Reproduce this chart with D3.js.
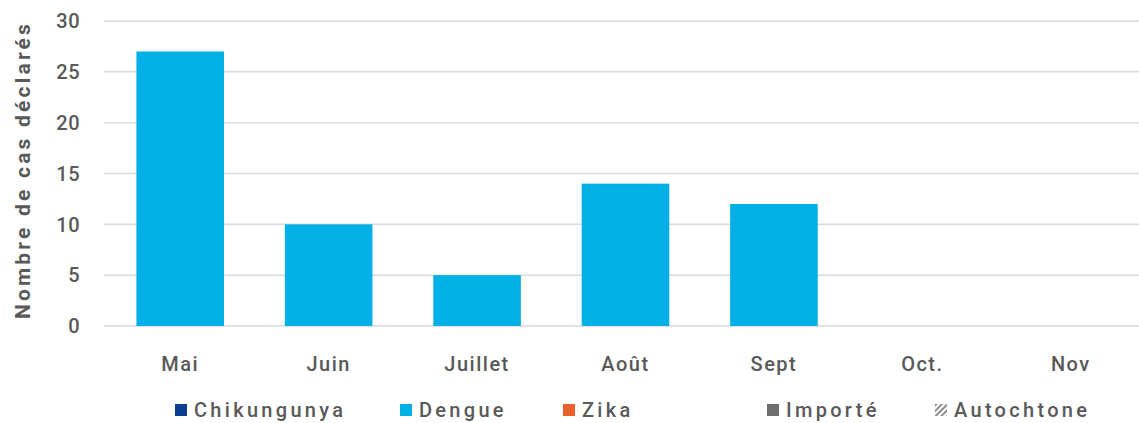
<!DOCTYPE html>
<html><head><meta charset="utf-8">
<script src="https://cdn.jsdelivr.net/npm/d3@7"></script>
<style>
body{margin:0;background:#fff;}
text{font-family:Roboto,"DejaVu Sans",sans-serif;fill:#595959;}
</style></head>
<body><svg id="c" width="1139" height="423"></svg>
<script>
const months = ["Mai","Juin","Juillet","Août","Sept","Oct.","Nov"];
const dengue = [27,10,5,14,12,0,0];
const yTicks = [0,5,10,15,20,25,30];
const legendNames = ["Chikungunya","Dengue","Zika","Importé","Autochtone"];
const legendColors = ["#0B3E91","#00B0E6","#E8602C","#6E6E6E","hatch"];

(function(){
const svg = d3.select("#c");
const mLeft = 106, mRight = 1145, mTop = 21, mBottom = 326;
const x = d3.scaleBand().domain(months).range([mLeft, mRight]).paddingInner(0.41).paddingOuter(0.205);
const y = d3.scaleLinear().domain([0,30]).range([mBottom, mTop]);

svg.append("g").selectAll("line").data(yTicks).join("line")
  .attr("x1", 104).attr("x2", 1139)
  .attr("y1", d=>y(d)).attr("y2", d=>y(d))
  .attr("stroke", "#d9d9d9").attr("stroke-width", 1.5);

svg.append("g").selectAll("text").data(yTicks).join("text")
  .attr("x", 80).attr("y", d=>y(d)).attr("dy","0.36em")
  .attr("text-anchor","end").attr("font-size",20).attr("font-weight",500)
  .attr("letter-spacing","0.5px")
  .text(d=>d);

svg.append("text").attr("transform","translate(30,170) rotate(-90)")
  .attr("text-anchor","middle").attr("font-size",21).attr("font-weight",700)
  .attr("letter-spacing","3.2px")
  .text("Nombre de cas déclarés");

svg.append("g").selectAll("rect").data(months.map((m,i)=>({m,v:dengue[i]})).filter(d=>d.v>0)).join("rect")
  .attr("x", d=>x(d.m)).attr("width", x.bandwidth())
  .attr("y", d=>y(d.v)).attr("height", d=>y(0)-y(d.v))
  .attr("fill","#00B0E6");

svg.append("g").selectAll("text").data(months).join("text")
  .attr("x", d=>x(d)+x.bandwidth()/2).attr("y", 371)
  .attr("text-anchor","middle").attr("font-size",20).attr("font-weight",500)
  .attr("letter-spacing","1.5px")
  .text(d=>d);

const defs = svg.append("defs");
const pat = defs.append("pattern").attr("id","hatch").attr("patternUnits","userSpaceOnUse")
  .attr("width",4).attr("height",4).attr("patternTransform","rotate(45)");
pat.append("rect").attr("width",2).attr("height",4).attr("fill","#8c8c8c");

const legX = [175, 400, 563, 767, 935];
const lg = svg.append("g");
legendNames.forEach((n,i)=>{
  const g = lg.append("g").attr("transform",`translate(${legX[i]},404)`);
  g.append("rect").attr("width",12).attr("height",12)
    .attr("fill", legendColors[i]==="hatch" ? "url(#hatch)" : legendColors[i]);
  g.append("text").attr("x",19).attr("y",6).attr("dy","0.36em")
    .attr("font-size",20).attr("font-weight",500).attr("letter-spacing","3.3px").text(n);
});
})();
</script></body></html>
